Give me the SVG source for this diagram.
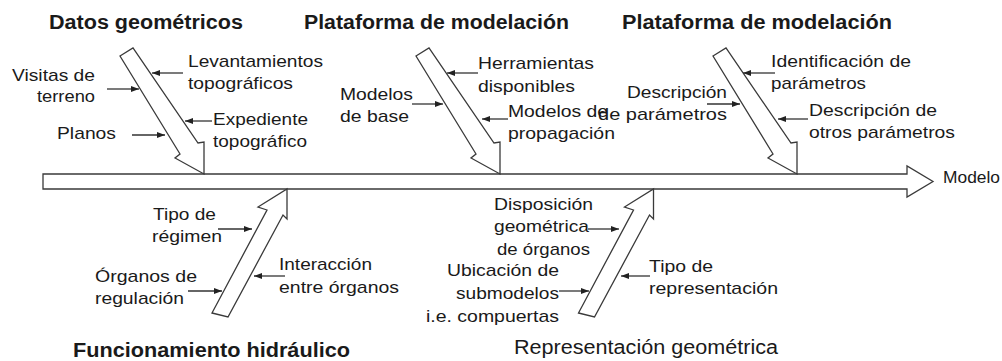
<svg xmlns="http://www.w3.org/2000/svg" width="1002" height="361" viewBox="0 0 1002 361">
<style>
.t{font-family:"Liberation Sans",Arial,sans-serif;font-size:17px;fill:#1a1a1a}
.h{font-size:19.5px;font-weight:bold}
.r{font-size:19.5px}
.big{fill:#fff;stroke:#3a3a3a;stroke-width:1.3;stroke-linejoin:miter}
.c{stroke:#333;stroke-width:1.3;fill:none;marker-end:url(#ah)}
</style>
<defs>
<marker id="ah" markerUnits="userSpaceOnUse" markerWidth="8" markerHeight="6" refX="8" refY="3" orient="auto">
<path d="M0,0 L8,3 L0,6 z" fill="#222"/>
</marker>
<polygon id="down" points="120,56 133,48 198,143 204,142 204,174 175,158 180,154"/>
<polygon id="up" points="212,313 228,317 283,215 287,219 287,189 258,207 267,210"/>
</defs>
<rect width="1002" height="361" fill="#fff"/>

<g id="spine">
<polygon class="big" points="43,174 907,174 907,166 933,181.5 907,197 907,189 43,189"/>
<text class="t" x="943" y="183" textLength="57" lengthAdjust="spacingAndGlyphs">Modelo</text>
</g>

<g id="datos">
<use href="#down" class="big"/>
<text class="t h" x="49" y="29" textLength="194" lengthAdjust="spacingAndGlyphs">Datos geométricos</text>
<text class="t" x="188" y="67" textLength="135" lengthAdjust="spacingAndGlyphs">Levantamientos</text>
<text class="t" x="188" y="89" textLength="105" lengthAdjust="spacingAndGlyphs">topográficos</text>
<text class="t" x="12" y="81" textLength="83" lengthAdjust="spacingAndGlyphs">Visitas de</text>
<text class="t" x="37" y="101.5" textLength="58" lengthAdjust="spacingAndGlyphs">terreno</text>
<text class="t" x="213" y="125" textLength="95" lengthAdjust="spacingAndGlyphs">Expediente</text>
<text class="t" x="213" y="146.5" textLength="94" lengthAdjust="spacingAndGlyphs">topográfico</text>
<text class="t" x="57" y="138.5" textLength="59" lengthAdjust="spacingAndGlyphs">Planos</text>
</g>

<g id="plataforma1">
<use href="#down" class="big" transform="translate(296,0)"/>
<text class="t h" x="304" y="28.5" textLength="265" lengthAdjust="spacingAndGlyphs">Plataforma de modelación</text>
<text class="t" x="478" y="69" textLength="116" lengthAdjust="spacingAndGlyphs">Herramientas</text>
<text class="t" x="478" y="91.5" textLength="97" lengthAdjust="spacingAndGlyphs">disponibles</text>
<text class="t" x="340" y="99.5" textLength="73" lengthAdjust="spacingAndGlyphs">Modelos</text>
<text class="t" x="340" y="122" textLength="69" lengthAdjust="spacingAndGlyphs">de base</text>
<text class="t" x="508" y="116.5" textLength="100" lengthAdjust="spacingAndGlyphs">Modelos de</text>
<text class="t" x="508" y="139" textLength="107" lengthAdjust="spacingAndGlyphs">propagación</text>
</g>

<g id="plataforma2">
<use href="#down" class="big" transform="translate(593,0)"/>
<text class="t h" x="622" y="28.5" textLength="270" lengthAdjust="spacingAndGlyphs">Plataforma de modelación</text>
<text class="t" x="771" y="67" textLength="140" lengthAdjust="spacingAndGlyphs">Identificación de</text>
<text class="t" x="771" y="88.5" textLength="95" lengthAdjust="spacingAndGlyphs">parámetros</text>
<text class="t" x="627" y="98" textLength="100" lengthAdjust="spacingAndGlyphs">Descripción</text>
<text class="t" x="598" y="120" textLength="129" lengthAdjust="spacingAndGlyphs">de parámetros</text>
<text class="t" x="809" y="115.5" textLength="128" lengthAdjust="spacingAndGlyphs">Descripción de</text>
<text class="t" x="809" y="137.5" textLength="146" lengthAdjust="spacingAndGlyphs">otros parámetros</text>
</g>

<g id="funcionamiento">
<use href="#up" class="big"/>
<text class="t h" x="73" y="357" textLength="277" lengthAdjust="spacingAndGlyphs">Funcionamiento hidráulico</text>
<text class="t" x="153" y="219.5" textLength="63" lengthAdjust="spacingAndGlyphs">Tipo de</text>
<text class="t" x="152" y="241.5" textLength="70" lengthAdjust="spacingAndGlyphs">régimen</text>
<text class="t" x="95" y="281.5" textLength="102" lengthAdjust="spacingAndGlyphs">Órganos de</text>
<text class="t" x="95" y="303.5" textLength="89" lengthAdjust="spacingAndGlyphs">regulación</text>
<text class="t" x="279" y="270" textLength="93" lengthAdjust="spacingAndGlyphs">Interacción</text>
<text class="t" x="279" y="292.5" textLength="120" lengthAdjust="spacingAndGlyphs">entre órganos</text>
</g>

<g id="representacion">
<use href="#up" class="big" transform="translate(366.5,0)"/>
<text class="t r" x="514" y="353.5" textLength="264" lengthAdjust="spacingAndGlyphs">Representación geométrica</text>
<text class="t" x="494" y="209.5" textLength="99" lengthAdjust="spacingAndGlyphs">Disposición</text>
<text class="t" x="494" y="231.5" textLength="95" lengthAdjust="spacingAndGlyphs">geométrica</text>
<text class="t" x="497" y="255" textLength="93" lengthAdjust="spacingAndGlyphs">de órganos</text>
<text class="t" x="447" y="275.5" textLength="112" lengthAdjust="spacingAndGlyphs">Ubicación de</text>
<text class="t" x="456" y="298.5" textLength="103" lengthAdjust="spacingAndGlyphs">submodelos</text>
<text class="t" x="426" y="322" textLength="133" lengthAdjust="spacingAndGlyphs">i.e. compuertas</text>
<text class="t" x="649" y="271.5" textLength="64" lengthAdjust="spacingAndGlyphs">Tipo de</text>
<text class="t" x="649" y="294" textLength="129" lengthAdjust="spacingAndGlyphs">representación</text>
</g>

<g id="connectors">
<line class="c" x1="183" y1="73" x2="152" y2="73"/>
<line class="c" x1="107" y1="89" x2="139" y2="89"/>
<line class="c" x1="212" y1="121" x2="185" y2="121"/>
<line class="c" x1="132" y1="135" x2="165" y2="135"/>
<line class="c" x1="478" y1="73" x2="447" y2="73"/>
<line class="c" x1="412" y1="104" x2="443" y2="104"/>
<line class="c" x1="508" y1="119" x2="482" y2="119"/>
<line class="c" x1="775" y1="73" x2="743" y2="73"/>
<line class="c" x1="707" y1="104" x2="740" y2="104"/>
<line class="c" x1="808" y1="119" x2="778" y2="119"/>
<line class="c" x1="218" y1="229" x2="252" y2="229"/>
<line class="c" x1="188" y1="291" x2="222" y2="291"/>
<line class="c" x1="285" y1="276" x2="254" y2="276"/>
<line class="c" x1="588" y1="229" x2="619" y2="229"/>
<line class="c" x1="559" y1="291" x2="589" y2="291"/>
<line class="c" x1="650" y1="276" x2="621" y2="276"/>
</g>
</svg>
